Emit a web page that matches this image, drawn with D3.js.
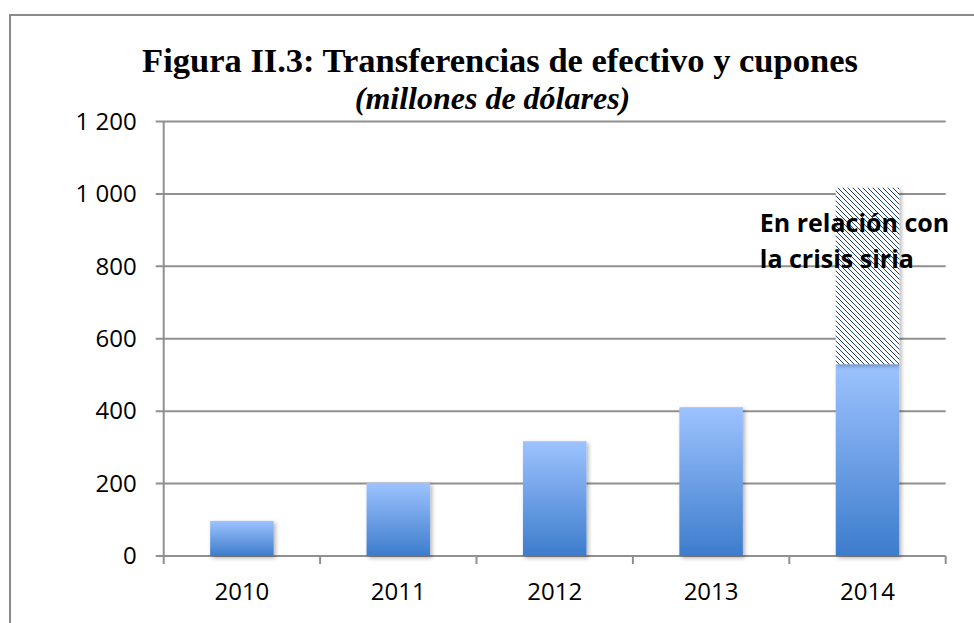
<!DOCTYPE html>
<html>
<head>
<meta charset="utf-8">
<script src="https://cdn.jsdelivr.net/npm/d3@7"></script>
<style>
  body { margin: 0; background: #fff; }
  svg { display: block; }
</style>
</head>
<body>
<div id="chart"></div>
<script>
// data (millones de dólares)
const years = ["2010", "2011", "2012", "2013", "2014"];
const baseValues = [97, 202, 317, 411, 530];
const syriaValues = [0, 0, 0, 0, 487];
const yTicks = [0, 200, 400, 600, 800, 1000, 1200];
const titleText = "Figura II.3: Transferencias de efectivo y cupones";
const subtitleText = "(millones de dólares)";
const noteLines = ["En relación con", "la crisis siria"];

const W = 974, H = 623;
const plot = { left: 163.7, right: 945.7, top: 121.5, bottom: 556 };

const svg = d3.select("#chart").append("svg")
    .attr("width", W)
    .attr("height", H);

const defs = svg.append("defs");

// blue gradient of the bars
const grad = defs.append("linearGradient")
    .attr("id", "barGrad")
    .attr("x1", "0%").attr("y1", "0%")
    .attr("x2", "0%").attr("y2", "100%");
grad.append("stop").attr("offset", "0%").attr("stop-color", "#9dc3ff");
grad.append("stop").attr("offset", "100%").attr("stop-color", "#3d7ccc");

// hatch for the syria part
const pat = defs.append("pattern")
    .attr("id", "hatch")
    .attr("patternUnits", "userSpaceOnUse")
    .attr("width", 5).attr("height", 5);
pat.append("rect").attr("width", 5).attr("height", 5).attr("fill", "#fff");
pat.append("path")
    .attr("d", "M-1,-1L6,6M-1,4L1,6M4,-1L6,1")
    .attr("stroke", "#1d3f7c")
    .attr("stroke-width", 1.3)
    .attr("shape-rendering", "crispEdges");

// soft shadow
const shadow = defs.append("filter")
    .attr("id", "shadow")
    .attr("x", "-20%").attr("y", "-20%")
    .attr("width", "150%").attr("height", "150%");
shadow.append("feDropShadow")
    .attr("dx", 2).attr("dy", 2)
    .attr("stdDeviation", 2)
    .attr("flood-color", "#000")
    .attr("flood-opacity", 0.3);

// outer frame (runs off the right and bottom)
svg.append("rect")
    .attr("x", 10).attr("y", 15)
    .attr("width", 1000).attr("height", 700)
    .attr("fill", "none")
    .attr("stroke", "#8a8a8a")
    .attr("stroke-width", 2);

const x = d3.scaleBand()
    .domain(years)
    .range([plot.left, plot.right])
    .paddingInner(0.594)
    .paddingOuter(0.297);

const y = d3.scaleLinear()
    .domain([0, 1200])
    .range([plot.bottom, plot.top]);

const fmt = d3.formatLocale({ decimal: ",", thousands: " ", grouping: [3], currency: ["", ""] }).format(",");

// gridlines
svg.append("g")
    .selectAll("line")
    .data(yTicks)
    .join("line")
    .attr("x1", plot.left - 8)
    .attr("x2", plot.right)
    .attr("y1", d => y(d))
    .attr("y2", d => y(d))
    .attr("stroke", "#909090")
    .attr("stroke-width", 2);

// y axis labels
const yAxis = svg.append("g")
    .attr("transform", `translate(${plot.left},0)`)
    .call(d3.axisLeft(y).tickValues(yTicks).tickSize(0).tickPadding(27).tickFormat(fmt));
yAxis.select(".domain").remove();
yAxis.selectAll("text")
    .attr("font-family", "Open Sans, sans-serif")
    .attr("font-size", 24)
    .attr("fill", "#000");

// y axis line
svg.append("line")
    .attr("x1", plot.left).attr("x2", plot.left)
    .attr("y1", plot.top).attr("y2", plot.bottom + 8)
    .attr("stroke", "#909090")
    .attr("stroke-width", 2);

// category boundary ticks
const bounds = d3.range(years.length + 1).map(i => plot.left + i * x.step());
svg.append("g")
    .selectAll("line")
    .data(bounds.slice(1))
    .join("line")
    .attr("x1", d => d).attr("x2", d => d)
    .attr("y1", plot.bottom).attr("y2", plot.bottom + 8)
    .attr("stroke", "#909090")
    .attr("stroke-width", 2);

// bars
svg.append("g")
    .selectAll("rect")
    .data(years)
    .join("rect")
    .attr("x", d => x(d))
    .attr("width", x.bandwidth())
    .attr("y", (d, i) => y(baseValues[i]))
    .attr("height", (d, i) => y(0) - y(baseValues[i]))
    .attr("fill", "url(#barGrad)")
    .attr("filter", "url(#shadow)");

svg.append("g")
    .selectAll("rect")
    .data(years.filter((d, i) => syriaValues[i] > 0))
    .join("rect")
    .attr("x", d => x(d))
    .attr("width", x.bandwidth())
    .attr("y", d => { const i = years.indexOf(d); return y(baseValues[i] + syriaValues[i]); })
    .attr("height", d => { const i = years.indexOf(d); return y(baseValues[i]) - y(baseValues[i] + syriaValues[i]); })
    .attr("fill", "url(#hatch)")
    .attr("filter", "url(#shadow)");

// x labels
svg.append("g")
    .selectAll("text")
    .data(years)
    .join("text")
    .attr("x", d => x(d) + x.bandwidth() / 2)
    .attr("y", 600)
    .attr("text-anchor", "middle")
    .attr("font-family", "Open Sans, sans-serif")
    .attr("font-size", 24)
    .text(d => d);

// annotation
const note = svg.append("text")
    .attr("x", x("2014") - 76)
    .attr("font-family", "Open Sans, sans-serif")
    .attr("font-weight", "bold")
    .attr("font-size", 25)
    .attr("fill", "#000");
note.selectAll("tspan")
    .data(noteLines)
    .join("tspan")
    .attr("x", x("2014") - 76)
    .attr("y", (d, i) => 232 + i * 36)
    .text(d => d);

// titles
svg.append("text")
    .attr("x", 500)
    .attr("y", 72)
    .attr("text-anchor", "middle")
    .attr("font-family", "Liberation Serif, serif")
    .attr("font-weight", "bold")
    .attr("font-size", 34.5)
    .text(titleText);

svg.append("text")
    .attr("x", 492.5)
    .attr("y", 109)
    .attr("text-anchor", "middle")
    .attr("font-family", "Liberation Serif, serif")
    .attr("font-weight", "bold")
    .attr("font-style", "italic")
    .attr("font-size", 32)
    .text(subtitleText);
</script>
</body>
</html>
